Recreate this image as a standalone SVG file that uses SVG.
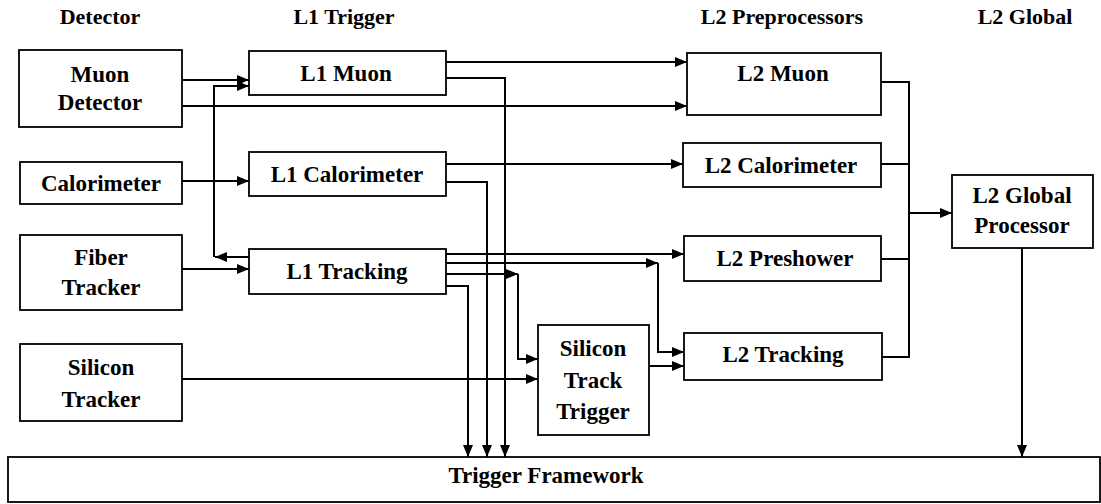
<svg xmlns="http://www.w3.org/2000/svg" width="1101" height="504" viewBox="0 0 1101 504">
  <style>
    .box { fill: #ffffff; stroke: #000000; stroke-width: 1.8; }
    .lbl { font-family: "Liberation Serif", "Times New Roman", serif; font-weight: bold; font-size: 23px; fill: #000000; text-anchor: middle; }
    .hdr { font-family: "Liberation Serif", "Times New Roman", serif; font-weight: bold; font-size: 22px; fill: #000000; text-anchor: middle; }
    .wire { fill: none; stroke: #000000; stroke-width: 2; }
  </style>
  <defs>
    <marker id="arrow" viewBox="0 0 12 10" refX="12" refY="5" markerWidth="13" markerHeight="10" markerUnits="userSpaceOnUse" orient="auto">
      <path d="M0,0 L12,5 L0,10 z" fill="#000000"/>
    </marker>
  </defs>
  <rect width="1101" height="504" fill="#ffffff"/>

  <!-- column headings -->
  <g id="headers">
    <text class="hdr" x="100" y="24">Detector</text>
    <text class="hdr" x="344" y="24">L1 Trigger</text>
    <text class="hdr" x="782" y="24">L2 Preprocessors</text>
    <text class="hdr" x="1025" y="24">L2 Global</text>
  </g>

  <!-- connectors -->
  <g id="connectors">
    <path class="wire" d="M182,80 H249" marker-end="url(#arrow)"/>
    <path class="wire" d="M182,106 H687" marker-end="url(#arrow)"/>
    <path class="wire" d="M249,257 H215" marker-end="url(#arrow)"/>
    <path class="wire" d="M214,257 V86 H249" marker-end="url(#arrow)"/>
    <path class="wire" d="M182,181 H249" marker-end="url(#arrow)"/>
    <path class="wire" d="M182,269 H249" marker-end="url(#arrow)"/>
    <path class="wire" d="M182,379 H538" marker-end="url(#arrow)"/>

    <path class="wire" d="M446,62 H687" marker-end="url(#arrow)"/>
    <path class="wire" d="M446,78 H505 V457" marker-end="url(#arrow)"/>
    <path class="wire" d="M446,164 H683" marker-end="url(#arrow)"/>
    <path class="wire" d="M446,182 H487 V457" marker-end="url(#arrow)"/>
    <path class="wire" d="M446,254 H684" marker-end="url(#arrow)"/>
    <path class="wire" d="M446,263 H658" marker-end="url(#arrow)"/>
    <path class="wire" d="M658,263 V352 H684" marker-end="url(#arrow)"/>
    <path class="wire" d="M446,274 H518" marker-end="url(#arrow)"/>
    <path class="wire" d="M518,274 V359 H538" marker-end="url(#arrow)"/>
    <path class="wire" d="M446,286 H468 V457" marker-end="url(#arrow)"/>
    <path class="wire" d="M649,366 H684" marker-end="url(#arrow)"/>

    <path class="wire" d="M881,82 H909 M881,164 H909 M881,259 H909 M882,357 H909 M909,81 V358"/>
    <path class="wire" d="M909,213 H952" marker-end="url(#arrow)"/>
    <path class="wire" d="M1022,248 V457" marker-end="url(#arrow)"/>
  </g>

  <!-- detector column -->
  <g id="muon-detector">
    <rect class="box" x="19" y="50" width="163" height="77"/>
    <text class="lbl" x="100" y="82">Muon</text>
    <text class="lbl" x="100" y="110">Detector</text>
  </g>
  <g id="calorimeter">
    <rect class="box" x="20" y="162" width="162" height="42"/>
    <text class="lbl" x="101" y="191">Calorimeter</text>
  </g>
  <g id="fiber-tracker">
    <rect class="box" x="20" y="235" width="162" height="75"/>
    <text class="lbl" x="101" y="265">Fiber</text>
    <text class="lbl" x="101" y="295">Tracker</text>
  </g>
  <g id="silicon-tracker">
    <rect class="box" x="20" y="344" width="162" height="77"/>
    <text class="lbl" x="101" y="375">Silicon</text>
    <text class="lbl" x="101" y="407">Tracker</text>
  </g>

  <!-- L1 trigger column -->
  <g id="l1-muon">
    <rect class="box" x="249" y="51" width="197" height="44"/>
    <text class="lbl" x="346" y="81">L1 Muon</text>
  </g>
  <g id="l1-calorimeter">
    <rect class="box" x="249" y="152" width="197" height="44"/>
    <text class="lbl" x="347" y="182">L1 Calorimeter</text>
  </g>
  <g id="l1-tracking">
    <rect class="box" x="249" y="249" width="197" height="45"/>
    <text class="lbl" x="347" y="279">L1 Tracking</text>
  </g>
  <g id="silicon-track-trigger">
    <rect class="box" x="538" y="325" width="111" height="110"/>
    <text class="lbl" x="593" y="356">Silicon</text>
    <text class="lbl" x="593" y="388">Track</text>
    <text class="lbl" x="593" y="419">Trigger</text>
  </g>

  <!-- L2 preprocessors -->
  <g id="l2-muon">
    <rect class="box" x="687" y="53" width="194" height="62"/>
    <text class="lbl" x="783" y="81">L2 Muon</text>
  </g>
  <g id="l2-calorimeter">
    <rect class="box" x="683" y="143" width="198" height="44"/>
    <text class="lbl" x="781" y="173">L2 Calorimeter</text>
  </g>
  <g id="l2-preshower">
    <rect class="box" x="684" y="236" width="197" height="45"/>
    <text class="lbl" x="785" y="266">L2 Preshower</text>
  </g>
  <g id="l2-tracking">
    <rect class="box" x="684" y="333" width="198" height="47"/>
    <text class="lbl" x="783" y="362">L2 Tracking</text>
  </g>

  <!-- L2 global -->
  <g id="l2-global">
    <rect class="box" x="952" y="175" width="141" height="73"/>
    <text class="lbl" x="1022" y="203">L2 Global</text>
    <text class="lbl" x="1022" y="233">Processor</text>
  </g>

  <g id="trigger-framework">
    <rect class="box" x="8" y="457" width="1092" height="45"/>
    <text class="lbl" x="546" y="483">Trigger Framework</text>
  </g>
</svg>
